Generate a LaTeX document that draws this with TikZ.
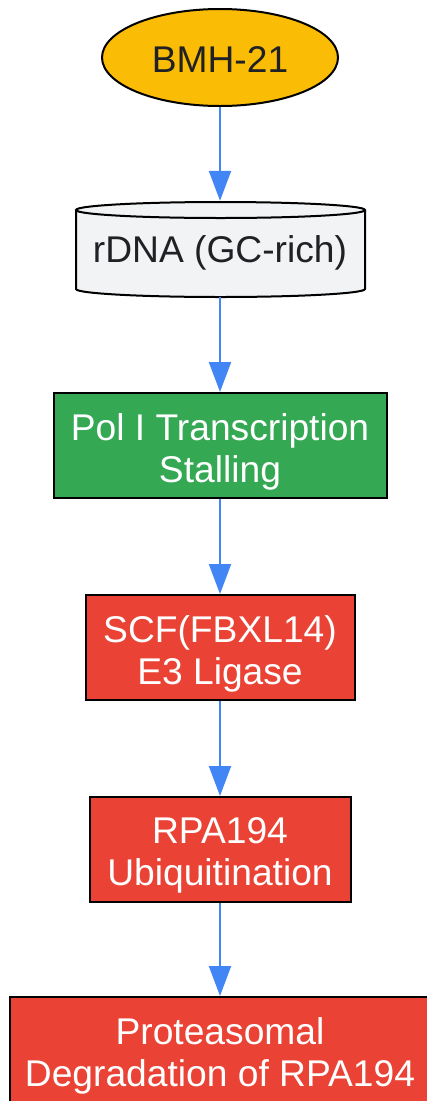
\documentclass[tikz,border=0pt]{standalone}
\usepackage{fontspec}
\setmainfont{Liberation Sans}
\usetikzlibrary{arrows.meta,shapes.geometric}
\definecolor{ylw}{HTML}{FBBC05}
\definecolor{grn}{HTML}{34A853}
\definecolor{rd}{HTML}{EA4335}
\definecolor{arrblue}{HTML}{4285F4}
\definecolor{cylgray}{HTML}{F1F3F4}
\definecolor{darktext}{HTML}{202124}
\begin{document}
\begin{tikzpicture}[x=1pt,y=-1pt,
  txt/.style={font=\fontsize{37.2}{42}\selectfont, align=center, inner sep=0pt},
  wtxt/.style={txt, text=white},
  dtxt/.style={txt, text=darktext},
  box/.style={draw=black, line width=2pt, inner sep=0pt},
  conn/.style={draw=arrblue, line width=2pt, -{Triangle[length=30pt,width=22pt]}}]
\useasboundingbox (0,0) rectangle (427,1101);
\node[ellipse, draw=black, line width=2pt, fill=ylw, minimum width=236pt, minimum height=97pt, inner sep=0pt] (bmh) at (220,57.5) {};
\node[dtxt] (bmht) at ([yshift=-2pt]bmh.center) {BMH-21};
% cylinder
\path[fill=cylgray, draw=black, line width=2pt] (76,210) -- (76,289) arc[start angle=180, end angle=360, x radius=144.5pt, y radius=8pt] -- (365,210);
\draw[fill=cylgray, line width=2pt] (220.5,210) ellipse [x radius=144.5pt, y radius=8pt];
\node[minimum width=289pt, minimum height=96pt, inner sep=0pt] (rdna) at (220,249) {};
\node[dtxt] (rdnat) at ([yshift=-4pt]rdna.center) {rDNA (GC-rich)};
\node[box, fill=grn, minimum width=333pt, minimum height=105pt] (pol) at (220,445.5) {};
\node[wtxt] (polt) at ([yshift=-6pt]pol.center) {Pol I Transcription\\Stalling};
\node[box, fill=rd, minimum width=269pt, minimum height=105pt] (scf) at (220,647.5) {};
\node[wtxt] (scft) at ([yshift=-6pt]scf.center) {SCF(FBXL14)\\E3 Ligase};
\node[box, fill=rd, minimum width=261pt, minimum height=105pt] (ubq) at (220,849.5) {};
\node[wtxt] (ubqt) at ([yshift=-6pt]ubq.center) {RPA194\\Ubiquitination};
\node[box, fill=rd, minimum width=421pt, minimum height=105pt] (deg) at (220,1049.5) {};
\node[wtxt] (degt) at ([yshift=-6pt]deg.center) {Proteasomal\\Degradation of RPA194};
\draw[conn] (bmh.south) -- (rdna.north);
\draw[conn] (rdna.south) -- (pol.north);
\draw[conn] (pol.south) -- (scf.north);
\draw[conn] (scf.south) -- (ubq.north);
\draw[conn] (ubq.south) -- (deg.north);
\end{tikzpicture}
\end{document}
